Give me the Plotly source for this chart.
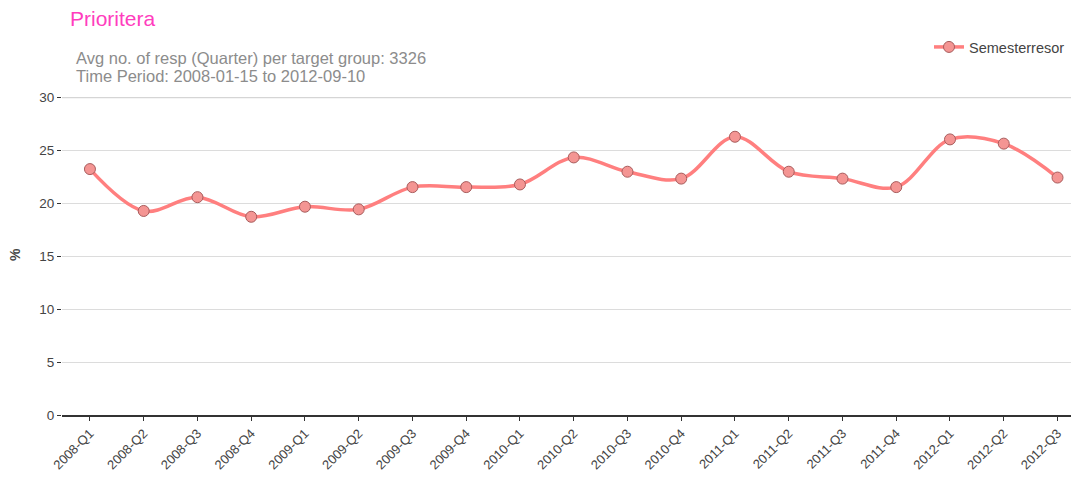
import plotly.graph_objects as go

quarters = ["2008-Q1","2008-Q2","2008-Q3","2008-Q4","2009-Q1","2009-Q2","2009-Q3","2009-Q4",
            "2010-Q1","2010-Q2","2010-Q3","2010-Q4","2011-Q1","2011-Q2","2011-Q3","2011-Q4",
            "2012-Q1","2012-Q2","2012-Q3"]
values = [23.2, 19.25, 20.55, 18.7, 19.65, 19.4, 21.5, 21.5,
          21.75, 24.3, 22.95, 22.3, 26.25, 22.95, 22.3, 21.5,
          26.0, 25.6, 22.4]
series_name = "Semesterresor"
y_ticks = [0, 5, 10, 15, 20, 25, 30]

W, H = 1071, 471
L, T, R, B = 54, 89, 0, 64
PW, PH = W - L - R, H - T - B

def px_x(x):
    return (x - L) / PW

def px_y(y):
    return 1 - (y - T) / PH

fig = go.Figure()
fig.add_trace(go.Scatter(
    x=list(range(len(quarters))), y=values, name=series_name,
    mode="lines+markers",
    line=dict(color="#FF7F7F", width=3.5, shape="spline", smoothing=1.0),
    marker=dict(size=11, color="#F49593", line=dict(color="#A85C5C", width=1)),
))

fig.update_layout(
    width=W, height=H,
    paper_bgcolor="white", plot_bgcolor="white",
    margin=dict(l=L, r=R, t=T, b=B, autoexpand=False),
    font=dict(family="Liberation Sans, Arial, sans-serif", color="#444444"),
    title=dict(text="Prioritera", x=62/W, xanchor="left", xref="container",
               y=1-11/H, yanchor="middle", yref="container", automargin=False,
               font=dict(size=21, color="#FF3DBE")),
    showlegend=True,
    legend=dict(x=921/W, xanchor="left", xref="container", y=1-39/H, yanchor="middle", yref="container",
                font=dict(size=14.5, color="#444444"), bgcolor="rgba(0,0,0,0)",
                itemwidth=30),
    annotations=[
        dict(text="Avg no. of resp (Quarter) per target group: 3326",
             xref="paper", yref="paper", x=px_x(66), y=px_y(50), xanchor="left", yanchor="middle",
             showarrow=False, font=dict(size=16.5, color="#8C8C8C")),
        dict(text="Time Period: 2008-01-15 to 2012-09-10",
             xref="paper", yref="paper", x=px_x(66), y=px_y(68), xanchor="left", yanchor="middle",
             showarrow=False, font=dict(size=16.5, color="#8C8C8C")),
        dict(text="<b>%</b>", textangle=-90,
             xref="paper", yref="paper", x=px_x(7), y=px_y(247), xanchor="center", yanchor="middle",
             showarrow=False, font=dict(size=14, color="#444444")),
    ],
)
fig.update_xaxes(
    tickmode="array", tickvals=list(range(len(quarters))), ticktext=quarters,
    range=[-0.52, 18.4], tickangle=-45, ticks="outside", ticklen=4, tickcolor="#333333",
    showline=True, linecolor="#333333", linewidth=1.5, showgrid=False, zeroline=False,
    tickfont=dict(size=13, color="#444444"), automargin=False,
)
fig.update_yaxes(
    tickmode="array", tickvals=y_ticks, range=[0, 30],
    ticks="outside", ticklen=4, tickcolor="#333333",
    showgrid=True, gridcolor="#DCDCDC", gridwidth=1, zeroline=False, showline=False,
    tickfont=dict(size=13.5, color="#444444"), automargin=False,
)
fig.add_shape(type="line", xref="paper", yref="y", x0=0, x1=1, y0=30, y1=30,
              line=dict(color="#D5D5D5", width=2.5), layer="below")

fig.write_html("out.html")
